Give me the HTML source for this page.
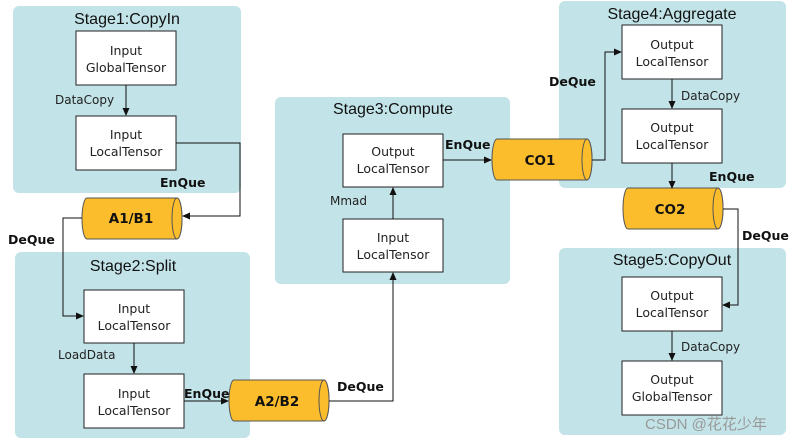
<!DOCTYPE html>
<html><head><style>body{margin:0;background:#fff}svg{display:block}text{font-family:"DejaVu Sans","Liberation Sans",sans-serif}text.t{font-family:"Liberation Sans",sans-serif}</style></head><body>
<svg width="797" height="442" viewBox="0 0 797 442" xmlns="http://www.w3.org/2000/svg">
<defs><marker id="a" markerWidth="8" markerHeight="8" refX="7" refY="4" orient="auto" markerUnits="userSpaceOnUse"><path d="M0,0.5 L8,4 L0,7.5z" fill="#111"/></marker>
<g id="cyl"><path d="M5,0 H95 A5,20.5 0 0 1 95,41 H5 A5,20.5 0 0 1 5,0z" fill="#fbbd2b" stroke="#555" stroke-width="1"/><ellipse cx="95" cy="20.5" rx="5" ry="20.5" fill="#fbbd2b" stroke="#555"/></g></defs>
<g fill="#c2e3e7">
<rect x="13" y="6" width="228" height="187" rx="6"/>
<rect x="15" y="252" width="235" height="186" rx="6"/>
<rect x="275" y="97" width="235" height="187" rx="6"/>
<rect x="559" y="1" width="227" height="187" rx="6"/>
<rect x="559" y="248" width="227" height="187" rx="6"/>
</g>
<g font-size="16" fill="#111" text-anchor="middle">
<text class="t" x="127" y="24">Stage1:CopyIn</text>
<text class="t" x="133" y="271">Stage2:Split</text>
<text class="t" x="393" y="114">Stage3:Compute</text>
<text class="t" x="672" y="19">Stage4:Aggregate</text>
<text class="t" x="672" y="265">Stage5:CopyOut</text>
</g>
<g fill="#fff" stroke="#222">
<rect x="76" y="31" width="100" height="54"/><rect x="76" y="116" width="100" height="54"/>
<rect x="84" y="290" width="100" height="53"/><rect x="84" y="374" width="100" height="54"/>
<rect x="343" y="134" width="100" height="53"/><rect x="343" y="219" width="100" height="53"/>
<rect x="622" y="25" width="100" height="54"/><rect x="622" y="109" width="100" height="54"/>
<rect x="622" y="277" width="100" height="54"/><rect x="622" y="361" width="100" height="54"/>
</g>
<g font-size="12.5" fill="#222" text-anchor="middle">
<text x="126" y="55">Input</text><text x="126" y="72">GlobalTensor</text>
<text x="126" y="139">Input</text><text x="126" y="156">LocalTensor</text>
<text x="134" y="313">Input</text><text x="134" y="330">LocalTensor</text>
<text x="134" y="398">Input</text><text x="134" y="415">LocalTensor</text>
<text x="393" y="156">Output</text><text x="393" y="173">LocalTensor</text>
<text x="393" y="242">Input</text><text x="393" y="259">LocalTensor</text>
<text x="672" y="49">Output</text><text x="672" y="66">LocalTensor</text>
<text x="672" y="132">Output</text><text x="672" y="149">LocalTensor</text>
<text x="672" y="300">Output</text><text x="672" y="317">LocalTensor</text>
<text x="672" y="384">Output</text><text x="672" y="401">GlobalTensor</text>
</g>
<g font-size="12" fill="#222">
<text x="55" y="104">DataCopy</text><text x="58" y="359">LoadData</text><text x="330" y="205">Mmad</text>
<text x="681" y="100">DataCopy</text><text x="681" y="351">DataCopy</text>
</g>
<use href="#cyl" x="82" y="198"/><use href="#cyl" x="229" y="380"/><use href="#cyl" x="492" y="139"/><use href="#cyl" x="623" y="188"/>
<g font-size="13.5" font-weight="bold" fill="#111" text-anchor="middle">
<text x="131" y="223">A1/B1</text><text x="277" y="406">A2/B2</text><text x="540" y="165">CO1</text><text x="670" y="214">CO2</text>
</g>
<g font-size="12.5" font-weight="bold" fill="#111">
<text x="160" y="187">EnQue</text><text x="8" y="244">DeQue</text><text x="184" y="398">EnQue</text><text x="337" y="391">DeQue</text>
<text x="445" y="149">EnQue</text><text x="549" y="86">DeQue</text><text x="709" y="181">EnQue</text><text x="742" y="240">DeQue</text>
</g>
<g stroke="#111" fill="none" stroke-width="1">
<path d="M126,85 V115" marker-end="url(#a)"/>
<path d="M176,143 H240 V216 H183" marker-end="url(#a)"/>
<path d="M82,218 H63 V316 H83" marker-end="url(#a)"/>
<path d="M134,343 V373" marker-end="url(#a)"/>
<path d="M184,401 H228" marker-end="url(#a)"/>
<path d="M329,401 H393 V273" marker-end="url(#a)"/>
<path d="M393,219 V188" marker-end="url(#a)"/>
<path d="M443,160 H491" marker-end="url(#a)"/>
<path d="M592,160 H605 V52 H621" marker-end="url(#a)"/>
<path d="M672,79 V108" marker-end="url(#a)"/>
<path d="M672,163 V188" marker-end="url(#a)"/>
<path d="M723,209 H738 V305 H723" marker-end="url(#a)"/>
<path d="M672,331 V360" marker-end="url(#a)"/>
</g>
<text x="645" y="429" font-size="15" fill="#999" style="font-family:'Liberation Sans','Noto Sans CJK SC',sans-serif">CSDN @花花少年</text>
</svg>
</body></html>
